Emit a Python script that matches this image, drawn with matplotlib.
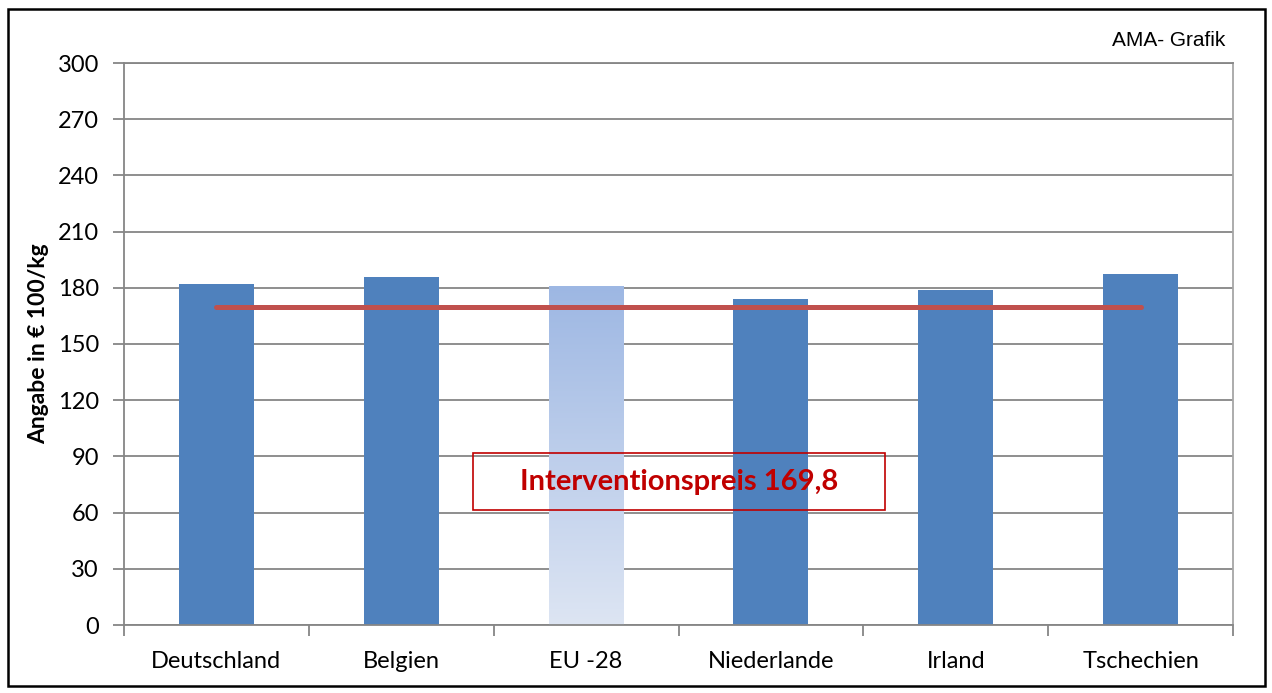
import matplotlib
matplotlib.use("Agg")
import matplotlib.pyplot as plt
import numpy as np
from matplotlib.patches import Rectangle
from matplotlib.colors import LinearSegmentedColormap

categories = ["Deutschland", "Belgien", "EU -28", "Niederlande", "Irland", "Tschechien"]
values = [182.0, 186.0, 181.0, 173.8, 178.8, 187.2]
intervention = 169.8
yticks = list(range(0, 301, 30))

fig = plt.figure(figsize=(12.72, 6.93), dpi=100)
ax = fig.add_axes([124/1272, 1-625/693, (1233-124)/1272, (625-63)/693])

grid_c = "#868686"
bar_c = "#4F81BD"
x = np.arange(len(categories))
bw = 0.405
bars = ax.bar(x, values, width=bw, color=bar_c, zorder=2)

# gradient for EU -28
i = 2
bars[i].set_facecolor("none")
cmap = LinearSegmentedColormap.from_list("g", ["#DDE5F3", "#9DB7E3"])
grad = np.linspace(0, 1, 256).reshape(-1, 1)
im = ax.imshow(grad, cmap=cmap, aspect="auto", origin="lower",
               extent=[x[i]-bw/2, x[i]+bw/2, 0, values[i]], zorder=2)
im.set_clip_path(bars[i])

ax.plot([x[0], x[-1]], [intervention, intervention], color="#C0504D", lw=3.6,
        solid_capstyle="round", zorder=3)

ax.set_xlim(-0.5, len(categories)-0.5)
ax.set_ylim(0, 300)
ax.set_yticks(yticks)
ax.yaxis.grid(True, color=grid_c, lw=1.3, zorder=0)
ax.set_axisbelow(True)
ax.set_xticks(x)
ax.set_xticklabels(categories)
ax.set_xticks(np.arange(-0.5, len(categories), 1), minor=True)
ax.tick_params(axis="x", which="major", length=0, pad=19, labelsize=17)
ax.tick_params(axis="x", which="minor", length=8, color=grid_c, width=1.3, direction="out")
ax.tick_params(axis="y", length=8, color=grid_c, width=1.3, labelsize=17, pad=10)
for lab in ax.get_xticklabels() + ax.get_yticklabels():
    lab.set_fontfamily("Lato")
for s in ax.spines.values():
    s.set_color(grid_c)
    s.set_linewidth(1.3)
ax.spines["right"].set_color("#A6A6A6")

ax.set_ylabel("Angabe in € 100/kg", fontsize=16.5, fontweight="bold",
              fontfamily="Lato", labelpad=6)

fig.patches.append(Rectangle((473/1272, 1-510/693), (885-473)/1272, (510-453)/693,
                             transform=fig.transFigure, fill=False,
                             ec="#C00000", lw=1.2, zorder=4))
fig.text(679/1272, 1-482/693, "Interventionspreis 169,8", ha="center", va="center",
         fontsize=21, fontweight="bold", color="#C00000", fontfamily="Lato", zorder=5)

fig.text(1225/1272, 1-40/693, "AMA- Grafik", ha="right", va="center",
         fontsize=15, fontfamily="Liberation Sans")

fig.patches.append(Rectangle((8/1272, 1-686/693), (1265-8)/1272, (686-9)/693,
                             transform=fig.transFigure, fill=False, ec="black", lw=1.8))

fig.savefig("out.png", dpi=100)
